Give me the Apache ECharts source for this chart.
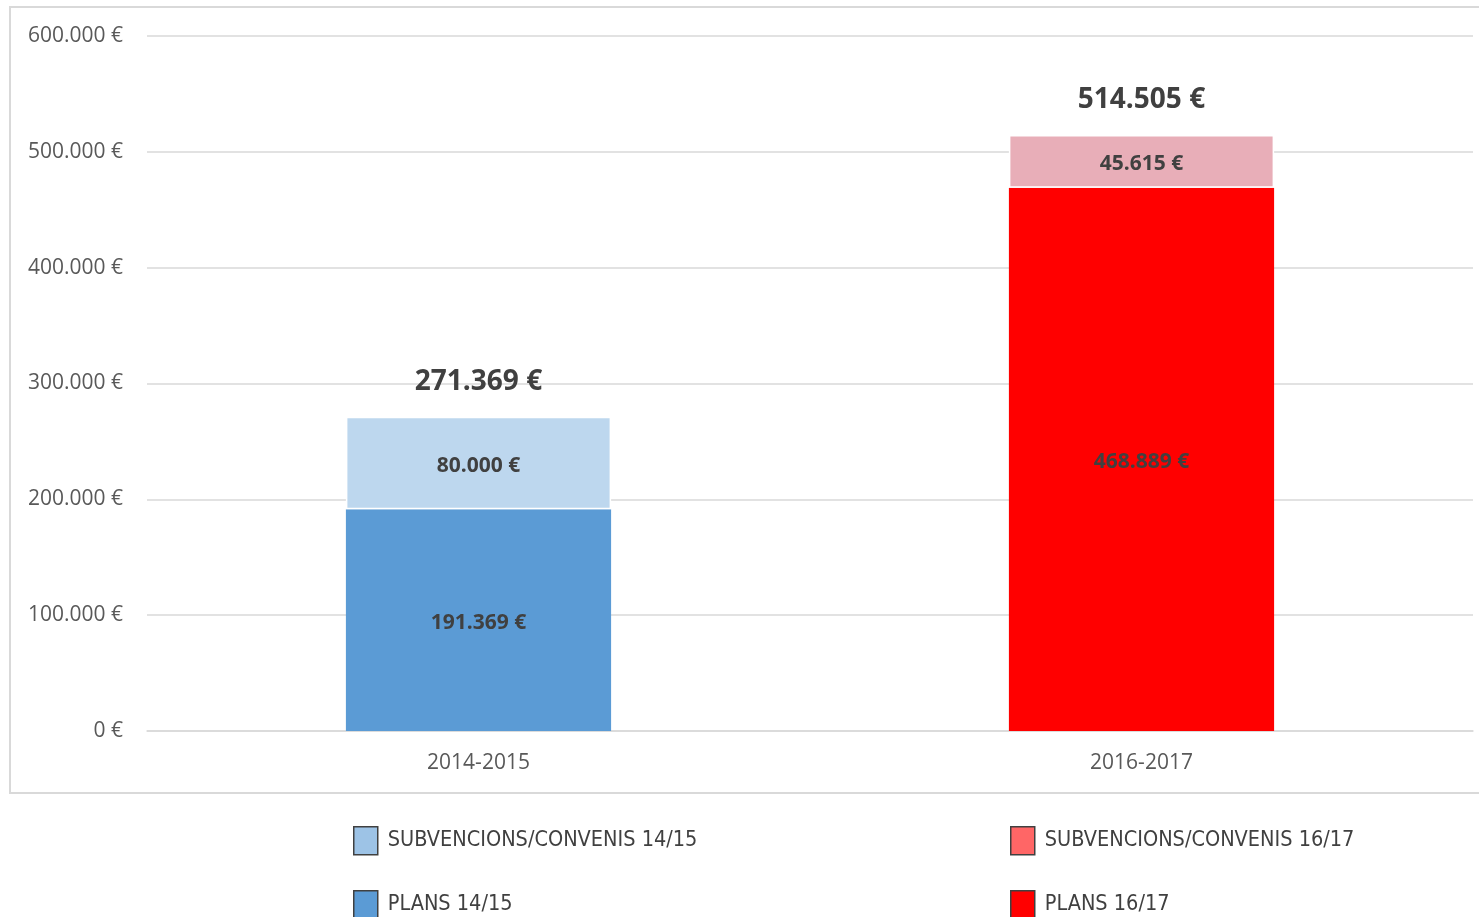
<!DOCTYPE html>
<html>
<head>
<meta charset="utf-8">
<script src="https://cdn.jsdelivr.net/npm/echarts@6/dist/echarts.min.js"></script>
<style>
  html, body { margin: 0; padding: 0; background: #fff; }
  #main { width: 1479px; height: 917px; }
</style>
</head>
<body>
<div id="main"></div>
<script>
// dades
const periodes = ['2014-2015', '2016-2017'];
const plans1415 = [191369, '-'];
const subv1415 = [80000, '-'];
const plans1617 = ['-', 468889];
const subv1617 = ['-', 45615];
const totals = [271369, 514505]; // tal com apareix al gràfic original
const yTicks = [0, 100000, 200000, 300000, 400000, 500000, 600000];

// format 1.234 €
function eur(v) {
  return String(v).replace(/\B(?=(\d{3})+(?!\d))/g, '.') + ' €';
}

const chart = echarts.init(document.getElementById('main'));

const innerLabel = {
  show: true,
  position: 'inside',
  offset: [0, 3],
  fontFamily: 'Open Sans',
  fontWeight: 'bold',
  fontSize: 21,
  color: '#404040',
  formatter: p => eur(p.value)
};

const legendText = {
  fontFamily: '"DejaVu Sans Condensed", "Liberation Sans Narrow", "Open Sans", sans-serif',
  fontSize: 21.5,
  color: '#404040',
  padding: [0, 0, 0, 5]
};

// una llegenda per element, en graella 2x2
function legendItem(name, color, left, top) {
  return {
    left: left, top: top,
    padding: 0,
    itemWidth: 24, itemHeight: 28,
    itemGap: 0,
    textStyle: legendText,
    selectedMode: false,
    data: [{ name: name, icon: 'rect', itemStyle: { color: color, borderColor: '#404040', borderWidth: 1.5 } }]
  };
}

const option = {
  animation: false,
  textStyle: { fontFamily: 'Open Sans' },
  graphic: [{
    type: 'rect',
    shape: { x: 10, y: 7, width: 1480, height: 786 },
    style: { fill: 'none', stroke: '#d9d9d9', lineWidth: 2 },
    z: -1
  }],
  grid: { left: 147, right: 6, top: 36, bottom: 186 },
  legend: [
    legendItem('SUBVENCIONS/CONVENIS 14/15', '#9dc3e6', 353, 826),
    legendItem('PLANS 14/15', '#5b9bd5', 353, 890),
    legendItem('SUBVENCIONS/CONVENIS 16/17', '#ff6666', 1010, 826),
    legendItem('PLANS 16/17', '#ff0000', 1010, 890)
  ],
  xAxis: {
    type: 'category',
    data: periodes,
    axisLine: { lineStyle: { color: '#d9d9d9', width: 1.5 } },
    axisTick: { show: false },
    axisLabel: { fontSize: 21, color: '#595959', margin: 22 }
  },
  yAxis: {
    type: 'value',
    min: yTicks[0],
    max: yTicks[yTicks.length - 1],
    interval: yTicks[1] - yTicks[0],
    axisLine: { show: false },
    axisTick: { show: false },
    splitLine: { lineStyle: { color: '#d9d9d9', width: 1.5 } },
    axisLabel: { fontSize: 21, color: '#595959', margin: 24, formatter: v => eur(v) }
  },
  series: [
    {
      name: 'PLANS 14/15', type: 'bar', stack: 'total', barWidth: '40%',
      data: plans1415,
      itemStyle: { color: '#5b9bd5' },
      label: innerLabel
    },
    {
      name: 'SUBVENCIONS/CONVENIS 14/15', type: 'bar', stack: 'total',
      data: subv1415,
      itemStyle: { color: '#bdd7ee', borderColor: '#fff', borderWidth: 1.5 },
      label: innerLabel
    },
    {
      name: 'PLANS 16/17', type: 'bar', stack: 'total',
      data: plans1617,
      itemStyle: { color: '#ff0000' },
      label: innerLabel
    },
    {
      name: 'SUBVENCIONS/CONVENIS 16/17', type: 'bar', stack: 'total',
      data: subv1617,
      itemStyle: { color: '#e8aeb8', borderColor: '#fff', borderWidth: 1.5 },
      label: innerLabel
    },
    {
      name: 'total', type: 'bar', stack: 'total',
      data: totals.map(() => 0),
      itemStyle: { color: 'transparent' },
      label: {
        show: true,
        position: 'top',
        distance: 21,
        fontFamily: 'Open Sans',
        fontWeight: 'bold',
        fontSize: 28,
        color: '#404040',
        formatter: p => eur(totals[p.dataIndex])
      }
    }
  ]
};

chart.setOption(option);
</script>
</body>
</html>
